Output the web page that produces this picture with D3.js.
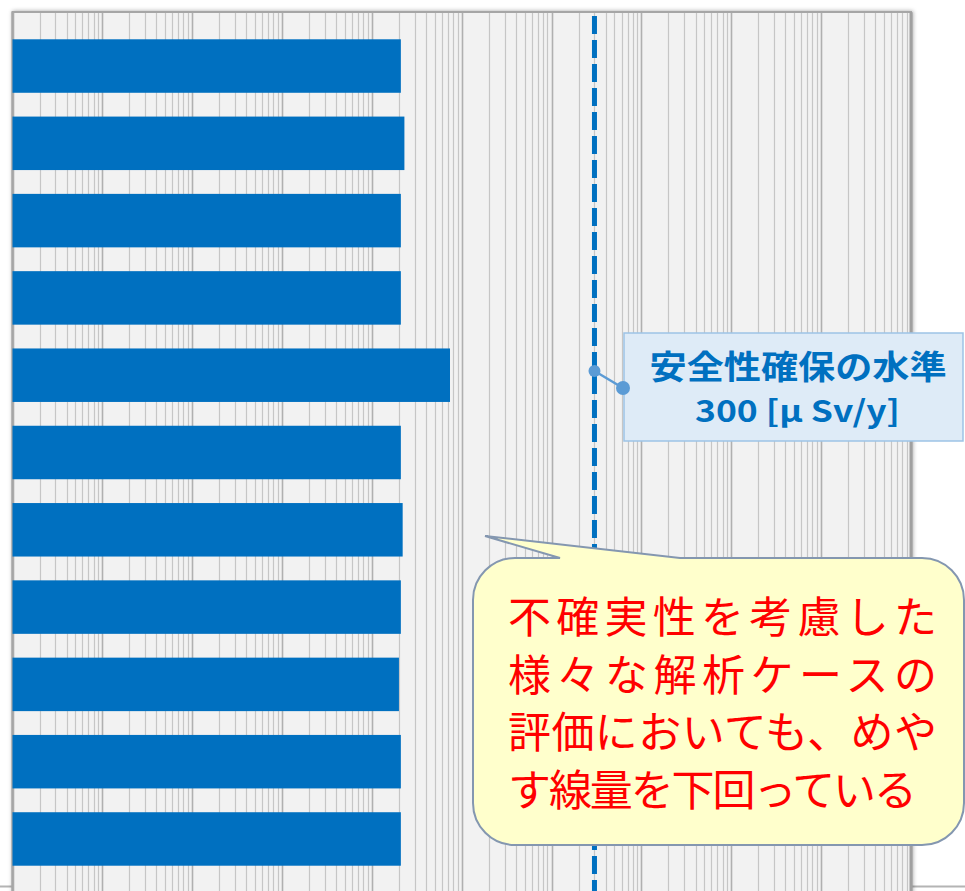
<!DOCTYPE html>
<html>
<head>
<meta charset="utf-8">
<script src="https://cdn.jsdelivr.net/npm/d3@7"></script>
<style>
  html, body { margin: 0; padding: 0; background: #fff; }
  svg { display: block; }
</style>
</head>
<body>
<div id="chart"></div>
<script>
// Dose per analysis case (µSv/y), log axis
const categories = ["ケース1", "ケース2", "ケース3", "ケース4", "ケース5", "ケース6",
                    "ケース7", "ケース8", "ケース9", "ケース10", "ケース11"];
const doses = [2.1, 2.3, 2.1, 2.1, 7.4, 2.1, 2.2, 2.1, 2.0, 2.1, 2.1];
const safetyLevel = 300;
const labelLines = ["安全性確保の水準", "300 [μ Sv/y]"];
const noteLines = ["不確実性を考慮した", "様々な解析ケースの", "評価においても、めや", "す線量を下回っている"];

(function drawChart() {
    const width = 965, height = 891;
    const plot = { left: 12.5, right: 911, top: 12, bottom: 893 };

    const svg = d3.select("#chart").append("svg")
        .attr("width", width)
        .attr("height", height);

    const defs = svg.append("defs");
    const shadow = defs.append("filter").attr("id", "frame-shadow")
        .attr("x", "-5%").attr("y", "-5%").attr("width", "110%").attr("height", "110%");
    shadow.append("feDropShadow")
        .attr("dx", 1).attr("dy", 0).attr("stdDeviation", 2)
        .attr("flood-color", "#000").attr("flood-opacity", 0.35);

    const x = d3.scaleLog().domain([1e-4, 1e6]).range([plot.left, plot.right]);
    const y = d3.scaleBand().domain(categories)
        .range([plot.top, plot.bottom])
        .paddingInner(0.308)
        .paddingOuter(0.353);

    // thin line under the frame, visible at both sides
    svg.append("line").attr("x1", 0).attr("x2", width).attr("y1", 886.5).attr("y2", 886.5)
        .attr("stroke", "#b4b4b4").attr("stroke-width", 2);

    // plot frame
    svg.append("rect")
        .attr("x", plot.left).attr("y", plot.top)
        .attr("width", plot.right - plot.left).attr("height", height - plot.top + 10)
        .attr("fill", "#f2f2f2")
        .attr("stroke", "#a6a6a6").attr("stroke-width", 2)
        .attr("filter", "url(#frame-shadow)");

    // log gridlines
    const isDecade = d => Math.abs(Math.log10(d) - Math.round(Math.log10(d))) < 1e-9;
    svg.append("g").selectAll("line")
        .data(x.ticks(20))
        .join("line")
        .attr("x1", d => Math.round(x(d)) + 0.5)
        .attr("x2", d => Math.round(x(d)) + 0.5)
        .attr("y1", plot.top + 1)
        .attr("y2", height)
        .attr("stroke", d => isDecade(d) ? "#b0b0b0" : "#c6c6c6")
        .attr("stroke-width", d => isDecade(d) ? 1.6 : 1.2);

    // right edge of frame drawn heavier
    svg.append("line")
        .attr("x1", plot.right).attr("x2", plot.right)
        .attr("y1", plot.top).attr("y2", height)
        .attr("stroke", "#a0a0a0").attr("stroke-width", 3);
    svg.append("line")
        .attr("x1", plot.left).attr("x2", plot.left)
        .attr("y1", plot.top).attr("y2", height)
        .attr("stroke", "#a6a6a6").attr("stroke-width", 2);

    // bars
    svg.append("g").selectAll("rect")
        .data(doses)
        .join("rect")
        .attr("x", plot.left)
        .attr("y", (d, i) => y(categories[i]))
        .attr("width", d => x(d) - plot.left)
        .attr("height", y.bandwidth())
        .attr("fill", "#0070c0");

    // safety level line
    const sx = x(safetyLevel);
    svg.append("line")
        .attr("x1", sx).attr("x2", sx)
        .attr("y1", 16).attr("y2", height)
        .attr("stroke", "#0070c0").attr("stroke-width", 5)
        .attr("stroke-dasharray", "18 6");

    // label box for the safety level
    const box = svg.append("g");
    box.append("rect")
        .attr("x", 624).attr("y", 333).attr("width", 339).attr("height", 108)
        .attr("fill", "#deebf7").attr("stroke", "#9dc3e6").attr("stroke-width", 1.5);
    box.append("text")
        .attr("x", 798).attr("y", 379)
        .attr("text-anchor", "middle")
        .attr("textLength", 297).attr("lengthAdjust", "spacingAndGlyphs")
        .attr("font-family", "'Noto Sans CJK JP', sans-serif")
        .attr("font-weight", "bold").attr("font-size", 33)
        .attr("fill", "#0070c0")
        .text(labelLines[0]);
    box.append("text")
        .attr("x", 797.5).attr("y", 422)
        .attr("text-anchor", "middle")
        .attr("textLength", 205).attr("lengthAdjust", "spacingAndGlyphs")
        .attr("font-family", "'Noto Sans CJK JP', sans-serif")
        .attr("font-weight", "bold").attr("font-size", 30)
        .attr("fill", "#0070c0")
        .text(labelLines[1]);

    svg.append("line")
        .attr("x1", sx).attr("y1", 371).attr("x2", 623).attr("y2", 388)
        .attr("stroke", "#5b9bd5").attr("stroke-width", 2.5);
    svg.append("circle").attr("cx", sx).attr("cy", 371).attr("r", 6).attr("fill", "#5b9bd5");
    svg.append("circle").attr("cx", 623).attr("cy", 388).attr("r", 7).attr("fill", "#5b9bd5");

    // speech bubble
    const bx0 = 473, bx1 = 964, by0 = 558, by1 = 845, r = 42;
    const bubble = d3.path();
    bubble.moveTo(bx0 + r, by0);
    bubble.lineTo(560, by0);
    bubble.lineTo(485, 536);
    bubble.lineTo(680, by0);
    bubble.lineTo(bx1 - r, by0);
    bubble.arcTo(bx1, by0, bx1, by0 + r, r);
    bubble.lineTo(bx1, by1 - r);
    bubble.arcTo(bx1, by1, bx1 - r, by1, r);
    bubble.lineTo(bx0 + r, by1);
    bubble.arcTo(bx0, by1, bx0, by1 - r, r);
    bubble.lineTo(bx0, by0 + r);
    bubble.arcTo(bx0, by0, bx0 + r, by0, r);
    bubble.closePath();
    svg.append("path")
        .attr("d", bubble.toString())
        .attr("fill", "#ffffcc")
        .attr("stroke", "#8497b0").attr("stroke-width", 2);

    const noteWidths = [429, 429, 429, 409];
    svg.append("g").selectAll("text")
        .data(noteLines)
        .join("text")
        .attr("x", 508)
        .attr("y", (d, i) => 633 + i * 57.5)
        .attr("textLength", (d, i) => noteWidths[i])
        .attr("lengthAdjust", "spacing")
        .attr("font-family", "'Noto Sans CJK JP', sans-serif")
        .attr("font-size", 43)
        .attr("fill", "#ff0000")
        .text(d => d);
})();
</script>
</body>
</html>
